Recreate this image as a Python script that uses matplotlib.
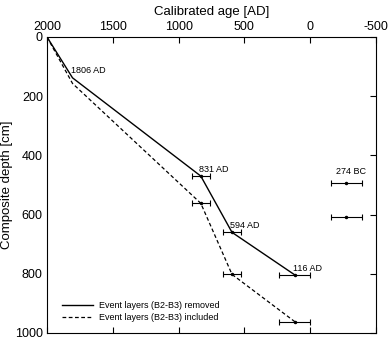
import matplotlib
matplotlib.use('Agg')
import matplotlib.pyplot as plt

plt.rcParams['font.family'] = ['Liberation Sans', 'DejaVu Sans']

# age-depth model, event layers removed
removed_age = [2000, 1806, 831, 594, 116]
removed_depth = [0, 138, 470, 660, 804]

# event layers included
included_age = [2000, 1806, 831, 594, 116]
included_depth = [0, 157, 562, 802, 962]

# dated samples with 2-sigma range
removed_err = [0, 0, 70, 68, 118]
included_err = [0, 0, 70, 68, 118]
labels = ['', '1806 AD', '831 AD', '594 AD', '116 AD']

# outlier sample (274 BC), shown at both depth scales
bc_age = -274
bc_depth_removed = 492
bc_depth_included = 607
bc_err = 117

fig = plt.figure(figsize=(3.9, 3.4), dpi=100)
ax = fig.add_axes([0.1205, 0.0206, 0.8435, 0.8706])

ax.plot(removed_age, removed_depth, color='black', lw=1.0,
        label='Event layers (B2-B3) removed')
ax.plot(included_age, included_depth, color='black', lw=0.9, ls=(0, (3, 2)),
        label='Event layers (B2-B3) included')

ax.errorbar(removed_age[2:], removed_depth[2:], xerr=removed_err[2:], fmt='o',
            ms=1.5, color='black', elinewidth=0.8, capsize=2, capthick=0.8)
ax.errorbar(included_age[2:], included_depth[2:], xerr=included_err[2:], fmt='o',
            ms=1.5, color='black', elinewidth=0.8, capsize=2, capthick=0.8)
ax.errorbar([bc_age, bc_age], [bc_depth_removed, bc_depth_included],
            xerr=bc_err, fmt='o', ms=1.5, color='black',
            elinewidth=0.8, capsize=2, capthick=0.8)

for a, d, t in zip(removed_age, removed_depth, labels):
    if t:
        ax.text(a + 15, d - 8, t, fontsize=6.5, ha='left', va='bottom')
ax.text(bc_age + 80, bc_depth_removed - 22, '274 BC', fontsize=6.5,
        ha='left', va='bottom')

ax.set_xlim(2000, -500)
ax.set_ylim(1000, 0)
ax.set_xticks([2000, 1500, 1000, 500, 0, -500])
ax.set_xticklabels(['2000', '1500', '1000', '500', '0', '-500'])
ax.set_yticks([0, 200, 400, 600, 800, 1000])

ax.xaxis.set_label_position('top')
ax.xaxis.tick_top()
ax.tick_params(axis='x', which='both', top=True, bottom=True, direction='in',
               length=4, width=0.8, labelsize=9, pad=3)
ax.tick_params(axis='y', which='both', left=True, right=True, direction='in',
               length=4, width=0.8, labelsize=9, pad=3)
ax.tick_params(axis='y', left=False)
ax.set_xlabel('Calibrated age [AD]', fontsize=9.5, labelpad=4)
ax.set_ylabel('Composite depth [cm]', fontsize=9.5, labelpad=1)

for s in ax.spines.values():
    s.set_linewidth(0.8)

ax.legend(loc='lower left', fontsize=6.5, frameon=False, handlelength=3.5,
          handletextpad=0.6, labelspacing=0.3, bbox_to_anchor=(0.02, 0.01))

fig.savefig('out.png', dpi=100)
